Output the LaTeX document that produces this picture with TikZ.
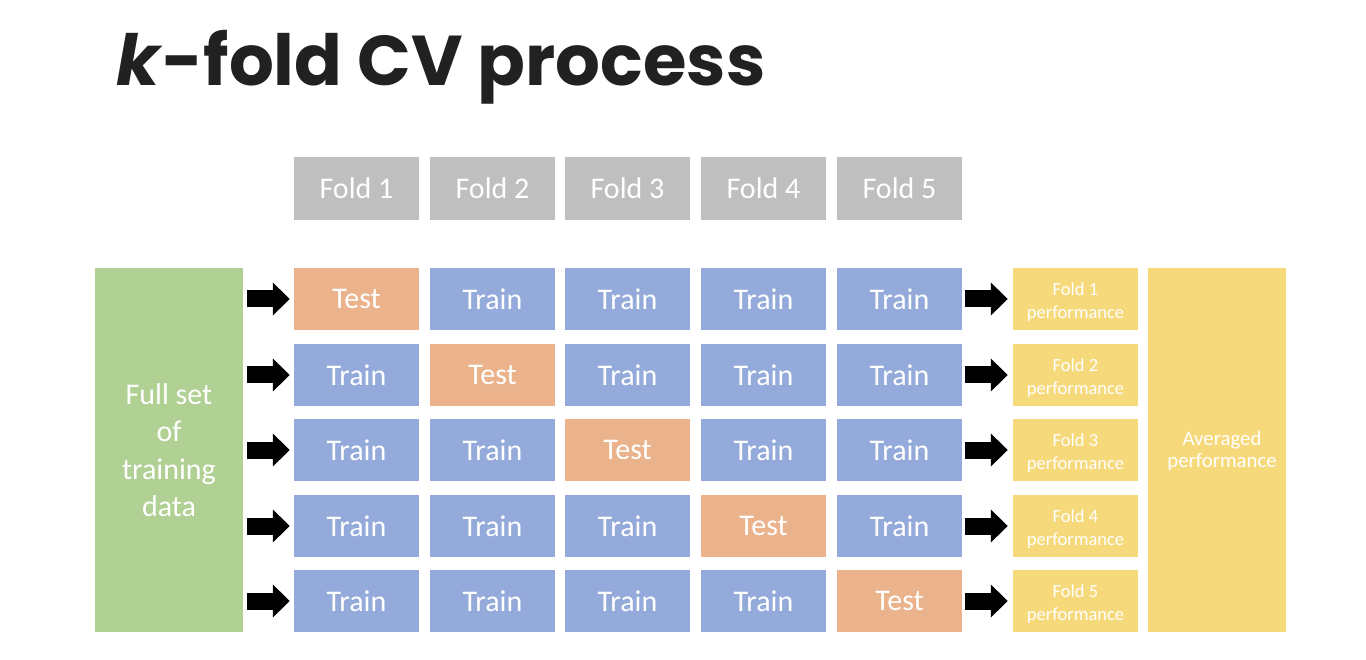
\documentclass[tikz,border=0pt]{standalone}
\usepackage{fontspec}
\setmainfont{Carlito}
\newfontfamily\titlefont{Poppins}
\usetikzlibrary{arrows.meta}
\definecolor{hdrgray}{HTML}{BFBFBF}
\definecolor{trainblue}{HTML}{94AADB}
\definecolor{testorange}{HTML}{EAB38B}
\definecolor{datagreen}{HTML}{B0D094}
\definecolor{perfyellow}{HTML}{F6D97B}
\definecolor{titlecol}{HTML}{212121}
\begin{document}
\begin{tikzpicture}[x=1pt,y=-1pt,
  cell/.style={minimum width=125pt, minimum height=62pt, inner sep=0pt, text=white, font=\fontsize{30}{36}\selectfont},
  train/.style={cell, fill=trainblue},
  test/.style={cell, fill=testorange},
  hdr/.style={cell, minimum height=63pt, fill=hdrgray},
  perf/.style={cell, fill=perfyellow, align=center, font=\fontsize{18.5}{23}\selectfont},
  blockarrow/.style={line width=17pt, draw=black, -{Triangle[length=17pt,width=32pt]}}]
\fill[white] (0,0) rectangle (1366,660);
\useasboundingbox (0,0) rectangle (1366,660);
\node[anchor=base west, inner sep=0pt, text=titlecol] (title) at (116,86)
  {\titlefont\bfseries\fontsize{70.5}{80}\selectfont\textit{k}-fold CV process};
\foreach \xx [count=\c] in {356.5,492.5,627.5,763.5,899.5}
  \node[hdr] (h\c) at (\xx,188.5) {Fold \c};
\node[cell, fill=datagreen, minimum width=148pt, minimum height=364pt, align=center,
  font=\fontsize{30}{37.5}\selectfont] (data) at (169,450) {Full set\\of\\training\\data};
\node[cell, fill=perfyellow, minimum width=138pt, minimum height=364pt, align=center,
  font=\fontsize{20.8}{22}\selectfont] (avg) at (1217,450)
  {\hspace*{10pt}\rule{0pt}{16.5pt}Averaged\\\hspace*{10pt}performance};
\foreach \yy [count=\r] in {299,375,450,526,601} {
  \foreach \xx [count=\c] in {356.5,492.5,627.5,763.5,899.5} {
    \ifnum\r=\c \def\kind{test}\def\lbl{Test}\else \def\kind{train}\def\lbl{Train}\fi
    \node[\kind] (c\r-\c) at (\xx,\yy) {\lbl};
  }
  \node[perf] (p\r) at (1075.5,\yy) {\rule{0pt}{18pt}Fold \r\\performance};
  \draw[blockarrow, shorten <=4pt, shorten >=4pt] (data.east |- c\r-1.west) -- (c\r-1.west);
  \draw[blockarrow, shorten <=3pt, shorten >=5pt] (c\r-5.east) -- (p\r.west);
}
\end{tikzpicture}
\end{document}
